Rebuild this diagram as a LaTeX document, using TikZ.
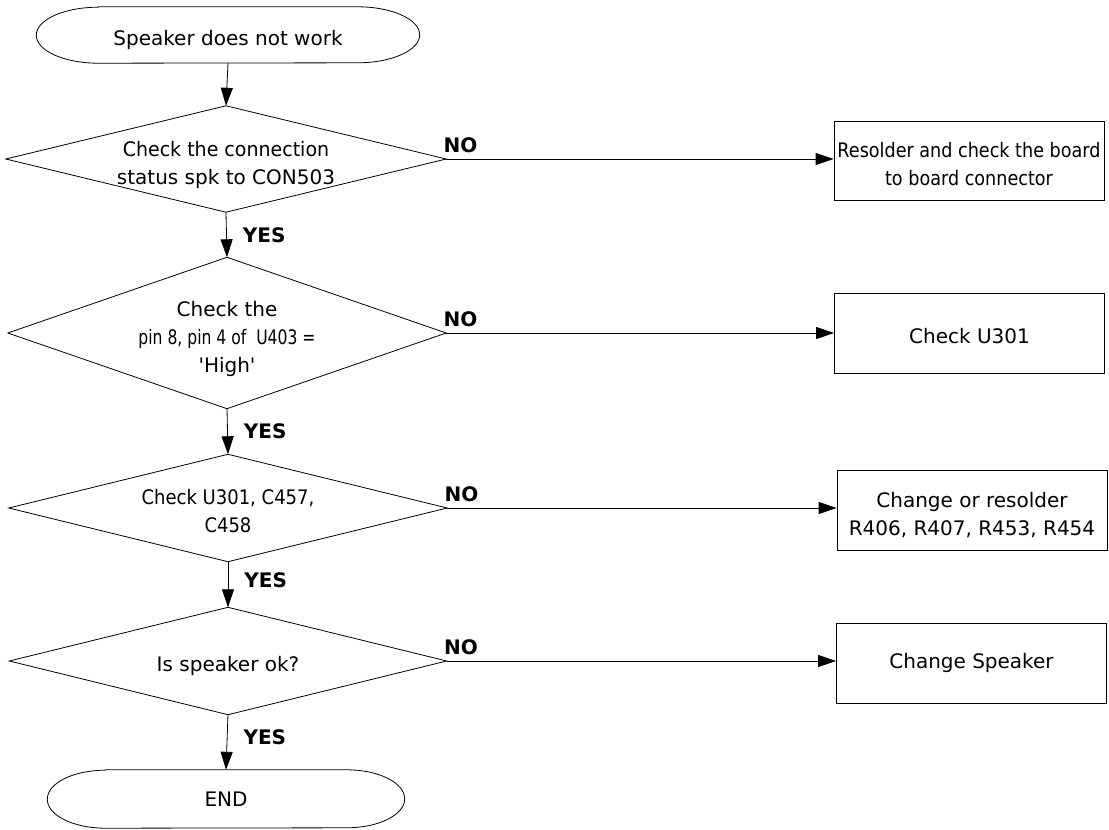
\documentclass[tikz,border=0pt]{standalone}
\usepackage{fontspec}
\setmainfont{DejaVu Sans}
\usepackage{graphicx}
\usetikzlibrary{arrows.meta,calc}
\newcommand{\cx}[2]{\scalebox{#1}[1]{#2}}
\newcommand{\up}[1]{\rule{0pt}{#1}}
\newcommand{\diadraw}[1]{\draw[line] (#1.north)--(#1.east)--(#1.south)--(#1.west)--cycle;}
\newcommand{\termdraw}[3]{%
  \draw[line] ($(#1.north west)+(#2,0)$) -- ($(#1.north east)+(-#2,0)$)
    arc[start angle=90,end angle=-90,x radius=#2pt,y radius=#3pt]
    -- ($(#1.south west)+(#2,0)$)
    arc[start angle=270,end angle=90,x radius=#2pt,y radius=#3pt] -- cycle;}
\tikzset{
  line/.style={line width=0.8pt,black},
  arr/.style={line,-{Triangle[length=18pt,width=12pt]}},
  txt/.style={font=\fontsize{20}{28}\selectfont,align=center,inner sep=0pt},
  term/.style={txt,rectangle},
  dec/.style={txt,rectangle},
  box/.style={txt,draw,line width=0.8pt,minimum width=270pt,minimum height=80pt},
  lab/.style={font=\fontsize{20}{24}\selectfont\bfseries,inner sep=0pt},
}
\begin{document}
\begin{tikzpicture}[x=1pt,y=-1pt]
\useasboundingbox (0,0) rectangle (1109,830);
% nodes
\node[term,minimum width=383pt,minimum height=56pt] (start) at (228,35) {\up{25pt}Speaker\ does\ not\ work};
\node[dec,minimum width=440pt,minimum height=106pt] (d1) at (226,159) {\up{27pt}\cx{0.95}{Check the connection}\\status spk to CON503};
\node[dec,minimum width=438pt,minimum height=151pt] (d2) at (227,333) {\up{27pt}Check the\\\cx{0.78}{pin 8, pin 4 of\ \ U403 =}\\\textquotesingle High\textquotesingle};
\node[dec,minimum width=438pt,minimum height=107pt] (d3) at (228,508) {\up{21pt}\cx{0.9}{Check U301, C457,}\\\cx{0.9}{C458}};
\node[dec,minimum width=437pt,minimum height=107pt] (d4) at (228,661) {\up{25pt}Is\ speaker\ ok?};
\node[term,minimum width=357pt,minimum height=58pt] (end) at (226,799) {END};
\node[box,minimum height=79pt] (b1) at (969,160.5) {\up{23pt}\cx{0.88}{Resolder and check the board}\\\cx{0.88}{to board connector}};
\node[box] (b2) at (969.5,333) {\up{21pt}Check U301};
\node[box] (b3) at (972,510) {\up{25pt}Change or resolder\\R406, R407, R453, R454};
\node[box] (b4) at (971.5,663) {Change Speaker};
% shapes
\termdraw{start}{62}{28}
\termdraw{end}{58}{29}
\diadraw{d1}
\diadraw{d2}
\diadraw{d3}
\diadraw{d4}
% connectors
\draw[arr] (start.south) -- (d1.north);
\draw[arr] (d1.south) -- node[lab,pos=0.5,right=16pt] {YES} (d2.north);
\draw[arr] (d2.south) -- node[lab,pos=0.5,right=16pt] {YES} (d3.north);
\draw[arr] (d3.south) -- node[lab,pos=0.4,right=16pt] {YES} (d4.north);
\draw[arr] (d4.south) -- node[lab,pos=0.4,right=16pt] {YES} (end.north);
\draw[arr] (d1.east) -- node[lab,pos=0,anchor=south west,xshift=-3pt,yshift=6pt] {NO} (d1.east -| b1.west);
\draw[arr] (d2.east) -- node[lab,pos=0,anchor=south west,xshift=-3pt,yshift=6pt] {NO} (d2.east -| b2.west);
\draw[arr] (d3.east) -- node[lab,pos=0,anchor=south west,xshift=-3pt,yshift=6pt] {NO} (d3.east -| b3.west);
\draw[arr] (d4.east) -- node[lab,pos=0,anchor=south west,xshift=-3pt,yshift=6pt] {NO} (d4.east -| b4.west);
\end{tikzpicture}
\end{document}
